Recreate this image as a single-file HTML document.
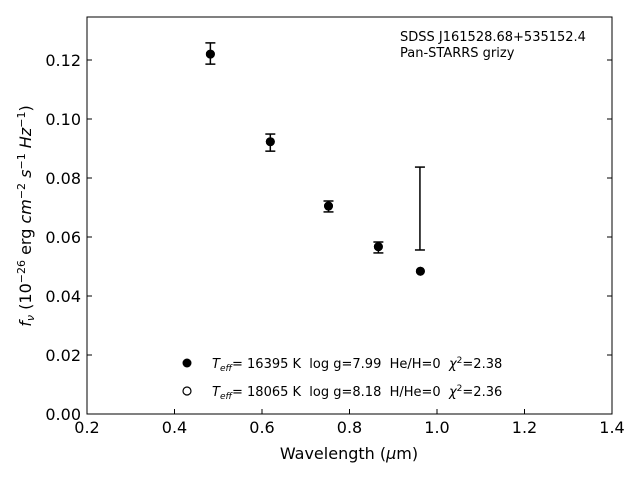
<!DOCTYPE html>
<html><head><meta charset="utf-8"><style>
body{margin:0;background:#fff}
svg{font-family:"DejaVu Sans","Liberation Sans",sans-serif}
text{white-space:pre}
</style></head><body>
<svg id="c" width="640" height="480" viewBox="0 0 640 480">
<rect x="0" y="0" width="640" height="480" fill="#fff"/>
<g id="marks"></g>
<g id="axes"></g>
<rect x="87" y="17" width="525" height="397" fill="none" stroke="#000" stroke-width="1"/>
<text x="400" y="41" font-size="13">SDSS J161528.68+535152.4</text>
<text x="400" y="57" font-size="13">Pan-STARRS grizy</text>
<g>
<circle cx="187" cy="363" r="4.5" fill="#000"/>
<text x="212" y="368" font-size="13" xml:space="preserve"><tspan font-style="italic">T</tspan><tspan font-style="italic" font-size="9" dy="3">eff</tspan><tspan dy="-3">= 16395 K  log g=7.99  He/H=0  </tspan><tspan font-style="italic">χ</tspan><tspan font-size="9" dy="-5">2</tspan><tspan dy="5">=2.38</tspan></text>
<circle cx="187" cy="391" r="4" fill="#fff" stroke="#000" stroke-width="1.2"/>
<text x="212" y="396" font-size="13" xml:space="preserve"><tspan font-style="italic">T</tspan><tspan font-style="italic" font-size="9" dy="3">eff</tspan><tspan dy="-3">= 18065 K  log g=8.18  H/He=0  </tspan><tspan font-style="italic">χ</tspan><tspan font-size="9" dy="-5">2</tspan><tspan dy="5">=2.36</tspan></text>
</g>
<text x="349" y="459" font-size="16" text-anchor="middle">Wavelength (<tspan font-style="italic">μ</tspan>m)</text>
<text transform="translate(31,216) rotate(-90)" font-size="16" text-anchor="middle"><tspan font-style="italic">f</tspan><tspan font-style="italic" font-size="11" dy="3">ν</tspan><tspan dy="-3"> (10</tspan><tspan font-size="11" dy="-6">−26</tspan><tspan dy="6"> erg </tspan><tspan font-style="italic">cm</tspan><tspan font-size="11" dy="-6">−2</tspan><tspan dy="6"> </tspan><tspan font-style="italic">s</tspan><tspan font-size="11" dy="-6">−1</tspan><tspan dy="6"> </tspan><tspan font-style="italic">Hz</tspan><tspan font-size="11" dy="-6">−1</tspan><tspan dy="6">)</tspan></text>
</svg>
<script>
const wavelengths=[0.482,0.619,0.752,0.866,0.962];
const modelFilled=[0.1220,0.0923,0.0705,0.0567,0.0484];
const modelOpen=[0.1220,0.0923,0.0705,0.0567,0.0484];
const obsWave=[0.482,0.619,0.752,0.866,0.961];
const obsHigh=[0.1258,0.0949,0.0722,0.0583,0.0837];
const obsLow=[0.1186,0.0891,0.0685,0.0546,0.0556];
const xTicks=[0.2,0.4,0.6,0.8,1.0,1.2,1.4];
const xTickLabels=["0.2","0.4","0.6","0.8","1.0","1.2","1.4"];
const yTicks=[0,0.02,0.04,0.06,0.08,0.10,0.12];
const yTickLabels=["0.00","0.02","0.04","0.06","0.08","0.10","0.12"];
const X=v=>87+(v-0.2)*437.5;
const Y=v=>414-v*2950;
const NS="http://www.w3.org/2000/svg";
function mk(t,a,p){const e=document.createElementNS(NS,t);for(const k in a)e.setAttribute(k,a[k]);p.appendChild(e);return e;}
const marks=document.getElementById('marks'),axes=document.getElementById('axes');
xTicks.forEach((v,i)=>{
 const l=mk('line',{x1:X(v),x2:X(v),y1:414,y2:409,stroke:'#000'},axes);
 
 
 const t=mk('text',{x:X(v),y:433,'font-size':16,'text-anchor':'middle'},axes);t.textContent=xTickLabels[i];
 
 
});
yTicks.forEach((v,i)=>{
 const l=mk('line',{x1:87,x2:92,y1:Y(v),y2:Y(v),stroke:'#000'},axes);
 
 
 const r=mk('line',{x1:612,x2:607,y1:Y(v),y2:Y(v),stroke:'#000'},axes);
 
 
 const t=mk('text',{x:81,y:Y(v)+6,'font-size':16,'text-anchor':'end'},axes);t.textContent=yTickLabels[i];
 
 
});
obsWave.forEach((w,i)=>{
 const g=mk('g',{stroke:'#000','stroke-width':1.5},marks);
 
 
 const x=X(w),a=Y(obsHigh[i]),b=Y(obsLow[i]);
 mk('line',{x1:x,x2:x,y1:a,y2:b},g);
 mk('line',{x1:x-5,x2:x+5,y1:a,y2:a},g);
 mk('line',{x1:x-5,x2:x+5,y1:b,y2:b},g);
});
wavelengths.forEach((w,i)=>{
 const o=mk('circle',{cx:X(w),cy:Y(modelOpen[i]),r:4,fill:'#fff',stroke:'#000'},marks);
 
 
 const c=mk('circle',{cx:X(w),cy:Y(modelFilled[i]),r:4.5,fill:'#000'},marks);
 
 
});
</script>
</body></html>
